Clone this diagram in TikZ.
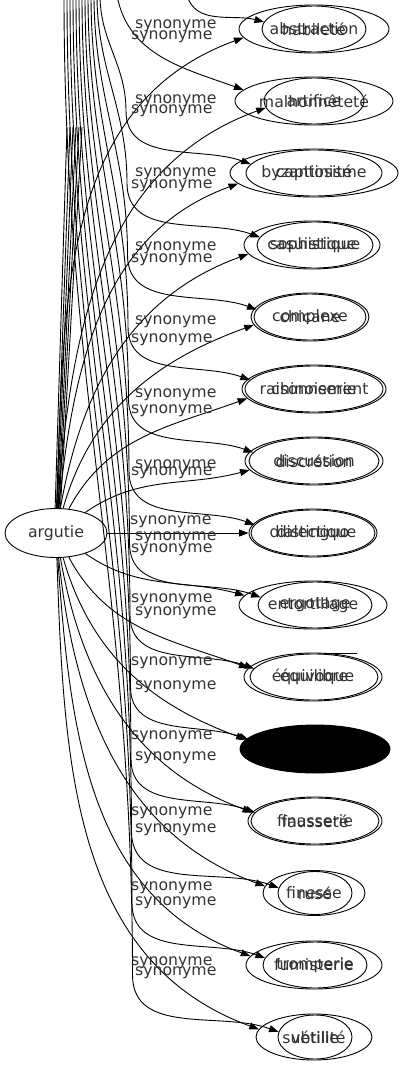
\documentclass[tikz,border=0pt]{standalone}
\usepackage{fontspec}
\setmainfont{DejaVu Sans}
\usepackage{tikz}
\usetikzlibrary{shapes.geometric,arrows.meta}
\def\drawsyn{\draw[line width=0.9bp,-{Triangle[length=9.5bp,width=7bp]}]}
\def\drawline{\draw[line width=0.9bp]}
\def\wordnode{\node[ellipse,draw,line width=0.9bp,inner sep=0pt,minimum height=48bp]}
\def\synnode{\node[anchor=west,inner sep=0pt]}
\newcommand{\wrd}[1]{\makebox[0pt]{#1}}

\begin{document}
\begin{tikzpicture}[x=1bp,y=1bp,every node/.style={font=\fontsize{15.7bp}{18bp}\selectfont,text=black!80}]
\useasboundingbox (0,0) rectangle (403,-1067);
\clip (0,0) rectangle (403,-1067);

\node[ellipse,draw,line width=0.9bp,inner sep=0pt,minimum width=102bp,minimum height=49bp] (arg) at (56,-533) {argutie};

% -------- words, first graph (outer) and second graph (inner) ---------
\wordnode[minimum width=150bp] (abs) at (314,-29) {\wrd{abstraction}};
\wordnode[minimum width=104bp,minimum height=46bp] (abs2) at (314,-29) {\wrd{habileté}};
\wordnode[minimum width=158bp] (mal) at (314,-101) {\wrd{malhonnêteté}};
\wordnode[minimum width=100bp,minimum height=46bp] (mal2) at (314,-101) {\wrd{artifice}};
\wordnode[minimum width=168bp] (byz) at (314,-173) {\wrd{byzantinisme}};
\wordnode[minimum width=136bp,minimum height=46bp] (byz2) at (314,-173) {\wrd{captiosité}};
\wordnode[minimum width=136bp] (cas) at (312,-245) {\wrd{casuistique}};
\wordnode[minimum width=116bp,minimum height=46bp] (cas2) at (315,-245) {\wrd{sophistique}};
\wordnode[minimum width=118bp] (chi) at (310,-317) {\wrd{chicane}};
\wordnode[minimum width=112bp,minimum height=46bp] (chi2) at (310,-317) {\wrd{complexe}};
\wordnode[minimum width=144bp] (chn) at (314,-389) {\wrd{chinoiserie}};
\wordnode[minimum width=138bp,minimum height=46bp] (chn2) at (314,-389) {\wrd{raisonnement}};
\wordnode[minimum width=138bp] (dis) at (314,-461) {\wrd{discussion}};
\wordnode[minimum width=130bp,minimum height=46bp] (dis2) at (314,-461) {\wrd{discrétion}};
\wordnode[minimum width=128bp] (dst) at (313,-533) {\wrd{distinguo}};
\wordnode[minimum width=124bp,minimum height=46bp] (dst2) at (313,-533) {\wrd{dialectique}};
\wordnode[minimum width=148bp] (ent) at (313,-605) {\wrd{entortillage}};
\wordnode[minimum width=114bp,minimum height=46bp] (ent2) at (315,-605) {\wrd{ergotage}};
\wordnode[minimum width=138bp] (equ) at (313,-677) {\wrd{équivoque}};
\wordnode[minimum width=128bp,minimum height=46bp] (equ2) at (314,-677) {\wrd{équilibre}};
\wordnode[minimum width=150bp,fill=black] (blk) at (315,-749) {};
\wordnode[minimum width=144bp,minimum height=46bp,fill=black] (blk2) at (315,-749) {};
\wordnode[minimum width=134bp] (fns) at (315,-821) {\wrd{finasserie}};
\wordnode[minimum width=128bp,minimum height=46bp] (fns2) at (315,-821) {\wrd{fausseté}};
\wordnode[minimum width=102bp,minimum height=45bp] (fin) at (314,-893) {\wrd{finesse}};
\wordnode[minimum width=74bp,minimum height=43bp] (fin2) at (315,-893) {\wrd{rusé}};
\wordnode[minimum width=136bp] (fum) at (314,-965) {\wrd{fumisterie}};
\wordnode[minimum width=104bp,minimum height=46bp] (fum2) at (315,-965) {\wrd{tromperie}};
\wordnode[minimum width=116bp,minimum height=46bp] (sub) at (314,-1037) {\wrd{subtilité}};
\wordnode[minimum width=74bp,minimum height=44bp] (sub2) at (315,-1037) {\wrd{vétille}};
\coordinate (gl) at (325,-653); % stray stroke above équivoque
\coordinate (gr) at (357,-653);
\drawline (gl) -- (gr);

% -------- first graph: edges out of argutie ---------
\drawsyn[out=88,in=200] (arg.88) to (abs.187);
\drawsyn[out=86,in=200] (arg.86) to (mal2.188);
\drawsyn[out=84,in=200] (arg.84) to (byz.188);
\drawsyn[out=80,in=200] (arg.80) to (cas.188);
\drawsyn[out=74,in=200] (arg.74) to (chi.188);
\drawsyn[out=62,in=200] (arg.62) to (chn.188);
\drawsyn[out=35,in=195] (arg.35) to (dis.188);
\drawsyn (arg) -- (dst);
\drawsyn[out=-35,in=165] (arg.-35) to (ent.172);
\drawsyn[out=-62,in=160] (arg.-62) to (equ.172);
\drawsyn[out=-74,in=160] (arg.-74) to (blk.172);
\drawsyn[out=-80,in=160] (arg.-80) to (fns.172);
\drawsyn[out=-84,in=160] (arg.-84) to (fin.172);
\drawsyn[out=-86,in=160] (arg.-86) to (fum.172);
\drawsyn[out=-88,in=160] (arg.-88) to (sub.172);
% stubs above argutie
\coordinate (st1) at (67,-127);
\coordinate (st2) at (70,-127);
\coordinate (st3) at (73,-127);
\coordinate (st4) at (76,-127);
\coordinate (st5) at (79,-127);
\coordinate (st6) at (82,-127);
\drawline (st1) -- (arg.92);
\drawline (st2) -- (arg.89);
\drawline (st3) -- (arg.87);
\drawline (st4) -- (arg.85);
\drawline (st5) -- (arg.83);
\drawline (st6) -- (arg.80);

% -------- second graph: edges coming down from above ---------
\coordinate (t1) at (187,5);
\coordinate (t2) at (117,5);
\drawsyn[out=-75,in=165] (t1) to (abs2.172);
\drawsyn[out=-80,in=160] (t2) to (mal.171);
\coordinate (t3) at (100,5);  \coordinate (k3) at (126,-111);
\coordinate (t4) at (97,5);   \coordinate (k4) at (127,-183);
\coordinate (t5) at (94,5);   \coordinate (k5) at (127.5,-255);
\coordinate (t6) at (91,5);   \coordinate (k6) at (128,-327);
\coordinate (t7) at (88,5);   \coordinate (k7) at (128.5,-399);
\coordinate (t8) at (85,5);   \coordinate (k8) at (129,-471);
\coordinate (t9) at (82,5);   \coordinate (k9) at (129.5,-543);
\coordinate (t10) at (79,5);  \coordinate (k10) at (130,-615);
\coordinate (t11) at (76,5);  \coordinate (k11) at (130.5,-687);
\coordinate (t12) at (73,5);  \coordinate (k12) at (131,-759);
\coordinate (t13) at (70,5);  \coordinate (k13) at (131.5,-831);
\coordinate (t14) at (67,5);  \coordinate (k14) at (132,-903);
\coordinate (t15) at (64,5);  \coordinate (k15) at (132.5,-975);
\drawsyn (t3) to[out=-90,in=90] (k3) to[out=-90,in=160] (byz2.172);
\drawsyn (t4) to[out=-90,in=90] (k4) to[out=-90,in=160] (cas2.172);
\drawsyn (t5) to[out=-90,in=90] (k5) to[out=-90,in=160] (chi2.172);
\drawsyn (t6) to[out=-90,in=90] (k6) to[out=-90,in=160] (chn2.172);
\drawsyn (t7) to[out=-90,in=90] (k7) to[out=-90,in=160] (dis2.172);
\drawsyn (t8) to[out=-90,in=90] (k8) to[out=-90,in=160] (dst2.172);
\drawsyn (t9) to[out=-90,in=90] (k9) to[out=-90,in=160] (ent2.172);
\drawsyn (t10) to[out=-90,in=90] (k10) to[out=-90,in=160] (equ2.172);
\drawsyn (t11) to[out=-90,in=90] (k11) to[out=-90,in=160] (blk2.172);
\drawsyn (t12) to[out=-90,in=90] (k12) to[out=-90,in=160] (fns2.172);
\drawsyn (t13) to[out=-90,in=90] (k13) to[out=-90,in=160] (fin2.172);
\drawsyn (t14) to[out=-90,in=90] (k14) to[out=-90,in=160] (fum2.172);
\drawsyn (t15) to[out=-90,in=90] (k15) to[out=-90,in=160] (sub2.172);

% -------- edge labels ---------
\synnode (l1a) at (135,-26) {synonyme};
\synnode (l1b) at (131,-37) {synonyme};
\synnode (l2a) at (135,-101) {synonyme};
\synnode (l2b) at (131,-111) {synonyme};
\synnode (l3a) at (135,-174) {synonyme};
\synnode (l3b) at (131,-186) {synonyme};
\synnode (l4a) at (135,-248) {synonyme};
\synnode (l4b) at (131,-260) {synonyme};
\synnode (l5a) at (135,-322) {synonyme};
\synnode (l5b) at (131,-340) {synonyme};
\synnode (l6a) at (135,-395) {synonyme};
\synnode (l6b) at (131,-411) {synonyme};
\synnode (l7a) at (135,-466) {synonyme};
\synnode (l7b) at (131,-473) {synonyme};
\synnode (l8a) at (130,-522) {synonyme};
\synnode (l8b) at (135,-538) {synonyme};
\synnode (l8c) at (131,-550) {synonyme};
\synnode (l9a) at (131,-600) {synonyme};
\synnode (l9b) at (135,-613) {synonyme};
\synnode (l10a) at (131,-663) {synonyme};
\synnode (l10b) at (135,-687) {synonyme};
\synnode (l11a) at (131,-737) {synonyme};
\synnode (l11b) at (135,-758) {synonyme};
\synnode (l12a) at (131,-813) {synonyme};
\synnode (l12b) at (135,-830) {synonyme};
\synnode (l13a) at (131,-888) {synonyme};
\synnode (l13b) at (135,-903) {synonyme};
\synnode (l14a) at (131,-963) {synonyme};
\synnode (l14b) at (135,-973) {synonyme};
\end{tikzpicture}
\end{document}
